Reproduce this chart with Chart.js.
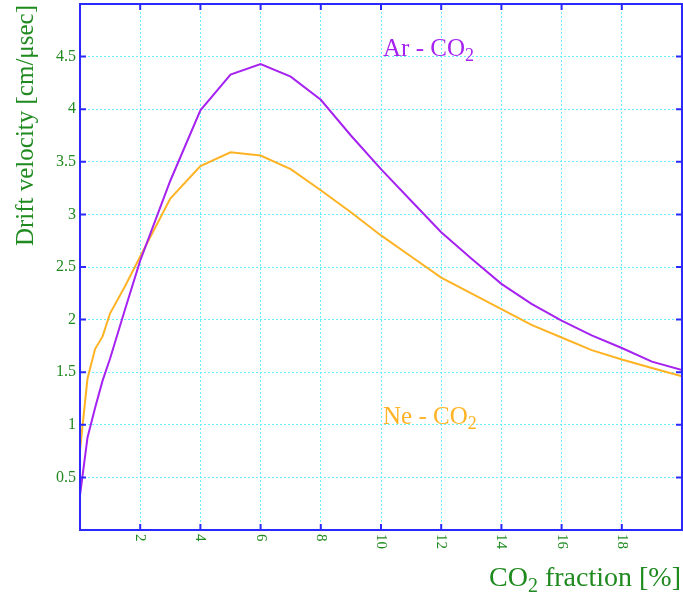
<!DOCTYPE html>
<html>
<head>
<meta charset="utf-8">
<script src="https://cdn.jsdelivr.net/npm/chart.js@4.4.1/dist/chart.umd.min.js"></script>
<style>
  body { margin: 0; background: #fff; }
  #box { width: 683px; height: 596px; }
</style>
</head>
<body>
<div id="box"><canvas id="grafico"></canvas></div>
<script>
// CO2 fraction [%]
var fracao = [0, 0.25, 0.5, 0.75, 1, 1.5, 2, 3, 4, 5, 6, 7, 8, 9, 10, 11, 12, 13, 14, 15, 16, 17, 18, 19, 20];
// drift velocity [cm/usec]
var arCO2 = [0.33, 0.88, 1.16, 1.42, 1.63, 2.10, 2.56, 3.32, 3.99, 4.33, 4.43, 4.31, 4.09, 3.75, 3.43, 3.13, 2.83, 2.58, 2.34, 2.15, 1.99, 1.85, 1.73, 1.60, 1.52];
var neCO2 = [0.76, 1.44, 1.72, 1.84, 2.06, 2.32, 2.60, 3.15, 3.46, 3.59, 3.56, 3.43, 3.23, 3.02, 2.80, 2.60, 2.40, 2.25, 2.10, 1.95, 1.83, 1.71, 1.62, 1.54, 1.46];

var xTicks = [2, 4, 6, 8, 10, 12, 14, 16, 18];
var yTicks = [0.5, 1, 1.5, 2, 2.5, 3, 3.5, 4, 4.5];

var verde = '#1f8a1f';
var azul = '#2a2aff';
var roxo = '#a522f0';
var laranja = '#ffb324';
var serif = '"Liberation Serif", "DejaVu Serif", serif';

function pontos(valores) {
    return fracao.map(function (x, i) {
        return { x: x, y: valores[i] };
    });
}

// texto com "CO" + subscrito 2
function textoCO2(ctx, antes, depois, x, y, size, cor, alinhar) {
    var sub = Math.round(size * 0.7);
    ctx.font = size + 'px ' + serif;
    var w1 = ctx.measureText(antes + 'CO').width;
    var w3 = ctx.measureText(depois).width;
    ctx.font = sub + 'px ' + serif;
    var w2 = ctx.measureText('2').width;
    var total = w1 + w2 + w3;
    var x0 = alinhar == 'right' ? x - total : x;
    ctx.fillStyle = cor;
    ctx.textAlign = 'left';
    ctx.textBaseline = 'alphabetic';
    ctx.font = size + 'px ' + serif;
    ctx.fillText(antes + 'CO', x0, y);
    ctx.font = sub + 'px ' + serif;
    ctx.fillText('2', x0 + w1, y + size * 0.22);
    ctx.font = size + 'px ' + serif;
    ctx.fillText(depois, x0 + w1 + w2, y);
}

var moldura = {
    id: 'moldura',
    afterDraw: function (chart) {
        var ctx = chart.ctx;
        var a = chart.chartArea;
        var sx = chart.scales.x;
        var sy = chart.scales.y;
        ctx.save();

        // borda completa e ticks para dentro
        ctx.strokeStyle = azul;
        ctx.lineWidth = 2;
        ctx.strokeRect(a.left, a.top, a.right - a.left, a.bottom - a.top);
        ctx.beginPath();
        xTicks.forEach(function (v) {
            var px = sx.getPixelForValue(v);
            ctx.moveTo(px, a.bottom); ctx.lineTo(px, a.bottom - 6);
            ctx.moveTo(px, a.top); ctx.lineTo(px, a.top + 6);
        });
        yTicks.forEach(function (v) {
            var py = sy.getPixelForValue(v);
            ctx.moveTo(a.left, py); ctx.lineTo(a.left + 6, py);
            ctx.moveTo(a.right, py); ctx.lineTo(a.right - 6, py);
        });
        ctx.stroke();

        // rotulos dos ticks
        ctx.fillStyle = verde;
        ctx.font = '16px ' + serif;
        ctx.textAlign = 'right';
        ctx.textBaseline = 'middle';
        yTicks.forEach(function (v) {
            ctx.fillText(String(v), a.left - 4, sy.getPixelForValue(v));
        });
        ctx.font = '15px ' + serif;
        ctx.textAlign = 'left';
        xTicks.forEach(function (v) {
            ctx.save();
            ctx.translate(sx.getPixelForValue(v), a.bottom + 4);
            ctx.rotate(Math.PI / 2);
            ctx.fillText(String(v), 0, 0);
            ctx.restore();
        });

        // titulo do eixo y
        ctx.save();
        ctx.translate(33, a.top + 1);
        ctx.rotate(-Math.PI / 2);
        ctx.font = '25px ' + serif;
        ctx.textAlign = 'right';
        ctx.textBaseline = 'alphabetic';
        ctx.fillText('Drift velocity [cm/\u03bcsec]', 0, 0);
        ctx.restore();

        // titulo do eixo x
        textoCO2(ctx, '', ' fraction [%]', 681, 586, 28, verde, 'right');

        // nomes das curvas
        textoCO2(ctx, 'Ar - ', '', sx.getPixelForValue(10) + 2, sy.getPixelForValue(4.5) - 1, 25, roxo, 'left');
        textoCO2(ctx, 'Ne - ', '', sx.getPixelForValue(10) + 2, sy.getPixelForValue(1) - 1, 25, laranja, 'left');
        ctx.restore();
    }
};

function graficoDrift() {
    var canvas = document.querySelector('#grafico');
    new Chart(canvas, {
        type: 'line',
        data: {
            datasets: [{
                label: 'Ar - CO2',
                data: pontos(arCO2),
                borderColor: roxo,
                borderWidth: 2,
                pointRadius: 0,
                tension: 0,
                fill: false
            }, {
                label: 'Ne - CO2',
                data: pontos(neCO2),
                borderColor: laranja,
                borderWidth: 2,
                pointRadius: 0,
                tension: 0,
                fill: false
            }]
        },
        options: {
            responsive: true,
            maintainAspectRatio: false,
            animation: false,
            layout: { padding: { top: 4, right: 1, left: 0, bottom: 0 } },
            plugins: {
                legend: { display: false },
                tooltip: { enabled: false }
            },
            scales: {
                x: {
                    type: 'linear',
                    min: 0,
                    max: 20,
                    ticks: { display: false, stepSize: 2 },
                    grid: { color: '#66eeff', lineWidth: 1, drawTicks: false },
                    border: { display: false, dash: [2, 2] },
                    afterFit: function (scale) { scale.height = 66; }
                },
                y: {
                    min: 0,
                    max: 5,
                    ticks: { display: false, stepSize: 0.5 },
                    grid: { color: '#66eeff', lineWidth: 1, drawTicks: false },
                    border: { display: false, dash: [2, 2] },
                    afterFit: function (scale) { scale.width = 80; }
                }
            }
        },
        plugins: [moldura]
    });
}

graficoDrift();
</script>
</body>
</html>
